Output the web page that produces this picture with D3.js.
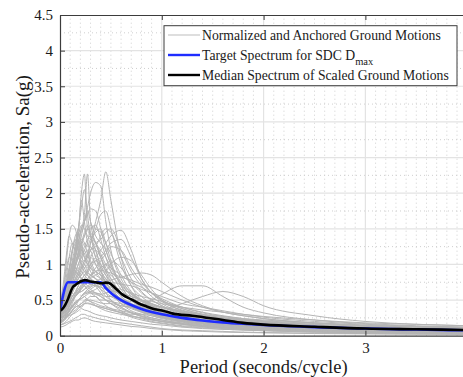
<!DOCTYPE html>
<html>
<head>
<meta charset="utf-8">
<script src="https://cdn.jsdelivr.net/npm/d3@7"></script>
<style>
html,body{margin:0;padding:0;background:#fff;}
svg{display:block;}
text{font-family:"Liberation Serif","DejaVu Serif",serif;fill:#1a1a1a;}
</style>
</head>
<body>
<svg id="chart" width="463" height="377"></svg>
<script>
// ---------- DATA ----------
const xTicks = [0, 1, 2, 3];
const yTicks = [0, 0.5, 1, 1.5, 2, 2.5, 3, 3.5, 4, 4.5];
const xTickLabels = ["0", "1", "2", "3"];
const yTickLabels = ["0", "0.5", "1", "1.5", "2", "2.5", "3", "3.5", "4", "4.5"];
const legendLabels = ["Normalized and Anchored Ground Motions", "Target Spectrum for SDC D", "Median Spectrum of Scaled Ground Motions"];

// periods (s) at which each ground motion is sampled
const gmPeriods = [0, 0.03, 0.06, 0.09, 0.12, 0.15, 0.18, 0.21, 0.24, 0.27, 0.30, 0.35, 0.40, 0.45, 0.50, 0.60, 0.70, 0.80, 0.90, 1.0, 1.2, 1.4, 1.6, 1.8, 2.0, 2.5, 3.0, 3.5, 4.0];
// Sa (g) of normalized and anchored ground motions
const groundMotions = [
  [0.30,0.35,0.45,0.60,0.70,0.80,0.90,1.00,1.20,1.10,1.30,1.60,1.90,2.30,1.90,1.10,0.70,0.50,0.40,0.33,0.25,0.20,0.16,0.13,0.11,0.08,0.06,0.05,0.04],
  [0.35,0.42,0.60,0.80,1.00,1.10,1.30,1.50,1.70,2.27,1.60,1.30,1.10,0.90,0.75,0.55,0.45,0.38,0.32,0.28,0.22,0.18,0.15,0.13,0.11,0.08,0.06,0.05,0.045],
  [0.40,0.50,0.70,0.90,1.20,1.40,1.50,2.00,2.27,1.50,1.40,1.20,0.95,0.70,0.60,0.45,0.35,0.30,0.25,0.22,0.18,0.15,0.12,0.10,0.09,0.07,0.05,0.04,0.035],
  [0.45,0.50,0.60,0.75,0.90,1.00,1.20,1.40,1.60,1.80,2.00,2.15,2.10,1.60,1.20,0.80,0.60,0.50,0.45,0.40,0.30,0.25,0.20,0.17,0.15,0.11,0.08,0.07,0.06],
  [0.30,0.32,0.38,0.45,0.55,0.60,0.70,0.80,0.85,0.90,1.00,1.10,1.20,1.30,1.40,1.48,1.20,0.80,0.60,0.50,0.38,0.30,0.24,0.20,0.17,0.13,0.10,0.08,0.07],
  [0.35,0.40,0.50,0.70,0.90,1.10,1.30,1.50,1.60,1.70,1.78,1.75,1.50,1.20,1.00,0.70,0.50,0.40,0.33,0.28,0.22,0.18,0.15,0.13,0.11,0.08,0.06,0.05,0.04],
  [0.40,0.60,1.00,1.40,1.55,1.50,1.30,1.20,1.10,1.00,0.90,0.80,0.70,0.60,0.50,0.40,0.32,0.27,0.23,0.20,0.16,0.13,0.11,0.09,0.08,0.06,0.05,0.04,0.03],
  [0.25,0.27,0.30,0.35,0.40,0.45,0.50,0.55,0.60,0.62,0.65,0.70,0.72,0.75,0.78,0.82,0.86,0.88,0.85,0.75,0.55,0.42,0.33,0.28,0.24,0.18,0.14,0.12,0.10],
  [0.20,0.22,0.25,0.30,0.35,0.40,0.42,0.45,0.50,0.52,0.55,0.55,0.50,0.50,0.48,0.45,0.42,0.45,0.50,0.58,0.70,0.70,0.55,0.40,0.32,0.22,0.17,0.14,0.12],
  [0.20,0.22,0.26,0.30,0.33,0.36,0.40,0.42,0.45,0.45,0.44,0.42,0.40,0.38,0.36,0.33,0.30,0.30,0.32,0.36,0.45,0.55,0.62,0.55,0.42,0.28,0.20,0.16,0.14],
  [0.15,0.16,0.18,0.20,0.22,0.25,0.27,0.30,0.30,0.28,0.27,0.25,0.23,0.22,0.20,0.18,0.16,0.14,0.12,0.10,0.08,0.07,0.06,0.05,0.045,0.035,0.03,0.025,0.02],
  [0.20,0.22,0.28,0.35,0.40,0.45,0.42,0.40,0.45,0.50,0.48,0.42,0.38,0.35,0.33,0.30,0.27,0.25,0.22,0.20,0.17,0.14,0.12,0.10,0.09,0.07,0.05,0.045,0.04],
  [0.35,0.40,0.55,0.70,0.80,0.90,0.85,0.95,1.00,0.90,0.85,0.80,0.75,0.70,0.62,0.50,0.42,0.35,0.30,0.26,0.20,0.17,0.14,0.12,0.10,0.07,0.055,0.045,0.04],
  [0.30,0.35,0.45,0.55,0.65,0.70,0.75,0.80,0.78,0.75,0.72,0.70,0.68,0.65,0.60,0.52,0.45,0.40,0.36,0.32,0.26,0.22,0.18,0.15,0.13,0.10,0.08,0.06,0.05],
  [0.45,0.55,0.80,1.10,1.30,1.20,1.35,1.25,1.10,1.00,0.95,0.85,0.80,0.70,0.60,0.48,0.40,0.34,0.30,0.27,0.21,0.17,0.14,0.12,0.10,0.08,0.06,0.05,0.045],
  [0.38,0.42,0.50,0.65,0.80,0.95,1.10,1.20,1.30,1.25,1.35,1.30,1.10,0.90,0.80,0.60,0.50,0.45,0.40,0.35,0.28,0.22,0.18,0.16,0.14,0.10,0.08,0.07,0.06],
  [0.32,0.35,0.40,0.50,0.60,0.70,0.80,0.90,1.00,1.10,1.20,1.30,1.35,1.45,1.50,1.20,0.90,0.70,0.55,0.45,0.33,0.27,0.22,0.19,0.16,0.12,0.09,0.07,0.06],
  [0.18,0.20,0.25,0.28,0.30,0.32,0.35,0.38,0.36,0.35,0.33,0.30,0.28,0.27,0.25,0.22,0.20,0.18,0.16,0.15,0.12,0.10,0.09,0.08,0.07,0.05,0.04,0.035,0.03],
  [0.28,0.30,0.38,0.50,0.60,0.55,0.60,0.65,0.70,0.65,0.60,0.58,0.55,0.50,0.48,0.42,0.40,0.38,0.35,0.30,0.25,0.20,0.18,0.15,0.13,0.10,0.08,0.06,0.05],
  [0.38,0.50,0.75,0.95,1.00,0.90,0.85,0.80,0.75,0.70,0.65,0.60,0.55,0.50,0.45,0.38,0.32,0.27,0.23,0.20,0.16,0.13,0.11,0.10,0.09,0.07,0.05,0.045,0.04],
  [0.25,0.27,0.30,0.35,0.40,0.45,0.50,0.55,0.60,0.60,0.62,0.60,0.58,0.60,0.62,0.60,0.55,0.50,0.48,0.45,0.40,0.36,0.33,0.30,0.27,0.22,0.18,0.16,0.14],
  [0.30,0.32,0.40,0.50,0.60,0.70,0.80,0.85,0.95,1.00,1.10,1.20,1.10,0.95,0.80,0.60,0.50,0.42,0.35,0.30,0.23,0.19,0.16,0.14,0.12,0.09,0.07,0.06,0.05],
  [0.40,0.48,0.65,0.90,1.15,1.35,1.20,1.00,0.90,0.85,0.80,0.75,0.65,0.55,0.50,0.40,0.33,0.28,0.25,0.22,0.17,0.14,0.12,0.10,0.09,0.07,0.05,0.04,0.035],
  [0.22,0.24,0.30,0.38,0.42,0.48,0.50,0.52,0.55,0.50,0.48,0.45,0.42,0.40,0.38,0.35,0.32,0.30,0.28,0.25,0.20,0.17,0.15,0.13,0.12,0.09,0.07,0.06,0.05],
  [0.30,0.32,0.38,0.45,0.50,0.55,0.60,0.62,0.65,0.70,0.72,0.75,0.80,0.78,0.70,0.65,0.60,0.55,0.52,0.48,0.40,0.33,0.28,0.24,0.20,0.15,0.12,0.10,0.09],
  [0.42,0.45,0.55,0.70,0.85,1.00,1.15,1.30,1.45,1.55,1.40,1.10,0.90,0.75,0.65,0.50,0.40,0.35,0.30,0.26,0.20,0.16,0.13,0.11,0.10,0.07,0.055,0.045,0.04],
  [0.35,0.38,0.45,0.55,0.65,0.75,0.85,0.95,1.05,1.15,1.30,1.50,1.70,1.75,1.50,1.00,0.70,0.55,0.45,0.38,0.28,0.22,0.18,0.15,0.13,0.10,0.08,0.065,0.055],
  [0.35,0.55,0.90,1.10,1.05,0.95,0.90,0.80,0.70,0.65,0.60,0.55,0.48,0.42,0.38,0.32,0.26,0.22,0.19,0.17,0.13,0.11,0.09,0.08,0.07,0.05,0.04,0.035,0.03],
  [0.35,0.40,0.50,0.70,0.90,1.10,1.40,1.90,1.60,1.30,1.20,1.00,0.90,0.80,0.70,0.55,0.45,0.38,0.32,0.28,0.22,0.18,0.15,0.13,0.11,0.08,0.06,0.05,0.045],
  [0.28,0.30,0.35,0.42,0.50,0.55,0.60,0.62,0.65,0.68,0.70,0.75,0.80,0.90,1.00,1.10,1.05,0.85,0.65,0.50,0.35,0.28,0.23,0.20,0.17,0.13,0.10,0.085,0.075],
  [0.20,0.22,0.26,0.30,0.35,0.40,0.42,0.45,0.48,0.50,0.50,0.48,0.46,0.45,0.45,0.42,0.40,0.38,0.36,0.34,0.30,0.27,0.25,0.23,0.21,0.17,0.14,0.12,0.10],
  [0.12,0.13,0.15,0.18,0.20,0.22,0.22,0.24,0.25,0.24,0.22,0.20,0.19,0.18,0.17,0.15,0.13,0.12,0.10,0.09,0.07,0.06,0.05,0.045,0.04,0.03,0.025,0.02,0.018],
  [0.36,0.40,0.50,0.60,0.75,0.90,1.00,1.15,1.25,1.35,1.40,1.30,1.15,1.00,0.90,0.75,0.60,0.50,0.42,0.36,0.28,0.22,0.18,0.15,0.13,0.10,0.075,0.06,0.05],
  [0.45,0.70,1.10,1.40,1.30,1.20,1.10,1.00,0.95,0.85,0.80,0.70,0.60,0.50,0.45,0.35,0.28,0.24,0.20,0.18,0.14,0.12,0.10,0.085,0.075,0.055,0.045,0.035,0.03],
  [0.30,0.33,0.40,0.48,0.55,0.60,0.65,0.70,0.75,0.80,0.85,0.95,1.05,1.15,1.25,1.20,0.95,0.75,0.60,0.50,0.38,0.30,0.25,0.22,0.19,0.14,0.11,0.09,0.08],
  [0.38,0.42,0.55,0.70,0.90,1.20,1.50,1.80,2.05,1.70,1.40,1.20,1.00,0.85,0.70,0.50,0.40,0.33,0.28,0.24,0.19,0.15,0.12,0.10,0.09,0.07,0.05,0.04,0.035],
  [0.25,0.30,0.42,0.55,0.70,0.80,0.90,1.05,1.00,0.95,1.10,1.00,0.85,0.70,0.60,0.45,0.38,0.33,0.30,0.27,0.22,0.18,0.15,0.13,0.11,0.085,0.065,0.055,0.05],
  [0.30,0.38,0.55,0.80,1.00,1.20,1.45,1.30,1.15,1.20,1.05,0.90,0.80,0.70,0.62,0.50,0.42,0.36,0.31,0.27,0.21,0.17,0.14,0.12,0.10,0.075,0.06,0.05,0.045],
  [0.22,0.25,0.32,0.40,0.50,0.58,0.65,0.72,0.80,0.88,0.95,1.05,1.00,0.92,0.85,0.70,0.58,0.50,0.44,0.40,0.33,0.28,0.24,0.21,0.18,0.14,0.11,0.09,0.08],
  [0.40,0.45,0.60,0.80,1.05,1.25,1.40,1.55,1.50,1.40,1.35,1.45,1.50,1.30,1.05,0.70,0.50,0.40,0.34,0.30,0.23,0.19,0.16,0.14,0.12,0.09,0.07,0.06,0.05],
  [0.20,0.22,0.28,0.35,0.45,0.55,0.60,0.68,0.72,0.75,0.80,0.85,0.90,1.00,1.05,0.95,0.75,0.60,0.50,0.42,0.32,0.26,0.22,0.19,0.16,0.12,0.10,0.08,0.07],
  [0.33,0.38,0.50,0.62,0.75,0.85,0.95,0.90,0.85,0.80,0.78,0.72,0.65,0.60,0.55,0.48,0.42,0.38,0.34,0.31,0.26,0.22,0.19,0.17,0.15,0.12,0.09,0.08,0.07],
  [0.26,0.28,0.34,0.42,0.50,0.58,0.62,0.66,0.70,0.75,0.82,0.90,0.95,1.00,0.95,0.85,0.75,0.68,0.60,0.52,0.40,0.32,0.27,0.23,0.20,0.15,0.12,0.10,0.09],
  [0.42,0.50,0.68,0.85,1.00,1.10,1.25,1.35,1.30,1.15,1.00,0.90,0.85,0.75,0.65,0.52,0.43,0.37,0.32,0.29,0.23,0.19,0.16,0.14,0.12,0.09,0.07,0.06,0.05],
  [0.18,0.20,0.24,0.30,0.36,0.42,0.48,0.55,0.60,0.65,0.68,0.72,0.75,0.72,0.68,0.60,0.55,0.50,0.45,0.40,0.32,0.27,0.23,0.20,0.18,0.14,0.11,0.09,0.08],
  [0.30,0.34,0.45,0.60,0.72,0.88,1.00,1.10,1.20,1.30,1.50,1.55,1.35,1.10,0.90,0.65,0.50,0.42,0.36,0.32,0.25,0.20,0.17,0.15,0.13,0.10,0.08,0.065,0.055],
  [0.36,0.42,0.58,0.75,0.95,1.15,1.25,1.10,1.05,1.15,1.25,1.10,0.95,0.85,0.75,0.60,0.50,0.43,0.38,0.33,0.26,0.21,0.17,0.15,0.13,0.10,0.075,0.06,0.05],
  [0.24,0.26,0.30,0.36,0.42,0.46,0.50,0.55,0.58,0.60,0.62,0.65,0.70,0.72,0.75,0.72,0.70,0.65,0.60,0.55,0.45,0.40,0.35,0.30,0.26,0.20,0.16,0.13,0.11],
  [0.32,0.36,0.45,0.55,0.68,0.78,0.85,0.95,1.05,1.10,1.20,1.25,1.40,1.50,1.45,1.10,0.80,0.62,0.50,0.42,0.32,0.26,0.21,0.18,0.16,0.12,0.09,0.075,0.065],
  [0.28,0.33,0.45,0.58,0.70,0.75,0.80,0.85,0.90,0.88,0.85,0.80,0.75,0.70,0.65,0.58,0.52,0.48,0.44,0.40,0.34,0.29,0.25,0.22,0.20,0.16,0.13,0.11,0.10],
  [0.45,0.52,0.70,0.95,1.20,1.30,1.50,1.45,1.60,1.75,1.60,1.40,1.30,1.20,1.00,0.75,0.55,0.45,0.38,0.33,0.26,0.21,0.17,0.15,0.13,0.10,0.075,0.06,0.05],
  [0.20,0.22,0.27,0.33,0.40,0.45,0.50,0.52,0.55,0.58,0.60,0.60,0.58,0.55,0.55,0.50,0.48,0.45,0.42,0.40,0.35,0.30,0.27,0.24,0.22,0.18,0.15,0.13,0.12],
  [0.38,0.44,0.60,0.78,0.92,1.05,1.15,1.20,1.15,1.05,0.95,0.90,0.85,0.80,0.72,0.60,0.50,0.44,0.40,0.36,0.30,0.25,0.21,0.18,0.16,0.12,0.095,0.08,0.07],
  [0.27,0.30,0.38,0.46,0.55,0.62,0.70,0.78,0.85,0.92,1.00,1.05,1.10,1.20,1.30,1.35,1.10,0.80,0.60,0.48,0.36,0.29,0.24,0.20,0.17,0.13,0.10,0.085,0.075],
  [0.15,0.17,0.20,0.25,0.30,0.34,0.38,0.42,0.45,0.46,0.45,0.42,0.40,0.38,0.36,0.32,0.28,0.25,0.22,0.20,0.16,0.13,0.11,0.10,0.09,0.07,0.055,0.045,0.04],
  [0.34,0.40,0.52,0.68,0.82,0.98,1.10,1.25,1.40,1.50,1.45,1.30,1.20,1.10,0.95,0.72,0.58,0.48,0.42,0.36,0.28,0.23,0.19,0.16,0.14,0.11,0.085,0.07,0.06],
  [0.24,0.27,0.33,0.40,0.48,0.55,0.62,0.68,0.74,0.80,0.85,0.90,0.92,0.90,0.88,0.82,0.78,0.72,0.68,0.62,0.50,0.40,0.33,0.28,0.24,0.18,0.14,0.12,0.10],
  [0.30,0.35,0.48,0.65,0.85,1.00,1.15,1.30,1.40,1.50,1.55,1.50,1.45,1.30,1.15,0.85,0.62,0.50,0.42,0.36,0.28,0.23,0.19,0.16,0.14,0.11,0.085,0.07,0.06]
];

// target spectrum (SDC Dmax)
const targetPeriods = [0, 0.08, 0.40, 0.45, 0.50, 0.55, 0.60, 0.70, 0.80, 0.90, 1.0, 1.2, 1.4, 1.6, 1.8, 2.0, 2.5, 3.0, 3.5, 4.0];
const targetSa      = [0.35, 0.75, 0.75, 0.667, 0.60, 0.545, 0.50, 0.43, 0.375, 0.333, 0.30, 0.25, 0.214, 0.1875, 0.167, 0.15, 0.12, 0.10, 0.086, 0.075];

// median of scaled ground motions
const medianPeriods = [0, 0.02, 0.05, 0.08, 0.10, 0.13, 0.15, 0.20, 0.25, 0.30, 0.35, 0.41, 0.45, 0.48, 0.55, 0.61, 0.70, 0.77, 0.85, 0.93, 1.0, 1.11, 1.3, 1.6, 1.8, 2.0, 2.5, 3.0, 3.5, 4.0];
const medianSa      = [0.35, 0.37, 0.43, 0.52, 0.60, 0.69, 0.71, 0.76, 0.78, 0.76, 0.75, 0.735, 0.745, 0.74, 0.66, 0.58, 0.51, 0.455, 0.41, 0.37, 0.355, 0.31, 0.28, 0.22, 0.18, 0.155, 0.125, 0.10, 0.09, 0.08];

// ---------- CHART ----------
const W = 463, H = 377;
const svg = d3.select("#chart");
const x = d3.scaleLinear().domain([0, 4]).range([60, 467.2]);
const y = d3.scaleLinear().domain([0, 4.5]).range([335.7, 15]);
const [x0, x1] = x.range(), [y0, y1] = y.range();

svg.append("rect").attr("width", W).attr("height", H).attr("fill", "#fff");

svg.append("defs").append("clipPath").attr("id", "clip")
  .append("rect").attr("x", x0).attr("y", y1).attr("width", x1 - x0).attr("height", y0 - y1);

// minor grid
const gMinor = svg.append("g");
gMinor.selectAll("line.mx").data(d3.range(1, 40).filter(i => i % 10 !== 0).map(i => i / 10))
  .join("line").attr("x1", d => x(d)).attr("x2", d => x(d)).attr("y1", y0).attr("y2", y1)
  .attr("stroke", "#cfcfcf").attr("stroke-width", 1).attr("stroke-dasharray", "1,3");
gMinor.selectAll("line.my").data(yTicks.slice(0, -1).map(v => v + 0.25))
  .join("line").attr("x1", x0).attr("x2", x1).attr("y1", d => y(d)).attr("y2", d => y(d))
  .attr("stroke", "#cfcfcf").attr("stroke-width", 1).attr("stroke-dasharray", "1,3");

// major grid
const gMajor = svg.append("g");
gMajor.selectAll("line.gx").data(xTicks.slice(1)).join("line")
  .attr("x1", d => x(d)).attr("x2", d => x(d)).attr("y1", y0).attr("y2", y1)
  .attr("stroke", "#e3e3e3").attr("stroke-width", 1.2);
gMajor.selectAll("line.gy").data(yTicks.slice(1, -1)).join("line")
  .attr("x1", x0).attr("x2", x1).attr("y1", d => y(d)).attr("y2", d => y(d))
  .attr("stroke", "#e3e3e3").attr("stroke-width", 1.2);

// data
const plot = svg.append("g").attr("clip-path", "url(#clip)");
const line = d3.line().curve(d3.curveMonotoneX);

plot.selectAll("path.gm").data(groundMotions).join("path")
  .attr("fill", "none").attr("stroke", "#b4b4b4").attr("stroke-width", 1)
  .attr("d", row => line(row.map((v, i) => [x(gmPeriods[i]), y(v)])));

plot.append("path").attr("fill", "none").attr("stroke", "#1f2dff").attr("stroke-width", 2.6)
  .attr("stroke-linejoin", "round")
  .attr("d", d3.line().curve(d3.curveMonotoneX)(targetPeriods.map((t, i) => [x(t), y(targetSa[i])])));

plot.append("path").attr("fill", "none").attr("stroke", "#000").attr("stroke-width", 2.6)
  .attr("stroke-linejoin", "round")
  .attr("d", line(medianPeriods.map((t, i) => [x(t), y(medianSa[i])])));

// axes
const axisColor = "#3c3c3c";
const gxAxis = svg.append("g").attr("transform", `translate(0,${y0})`)
  .call(d3.axisBottom(x).tickValues(xTicks).tickFormat((d, i) => xTickLabels[i]).tickSizeInner(-5).tickSizeOuter(0).tickPadding(7));
const gyAxis = svg.append("g").attr("transform", `translate(${x0},0)`)
  .call(d3.axisLeft(y).tickValues(yTicks).tickFormat((d, i) => yTickLabels[i]).tickSizeInner(-5).tickSizeOuter(0).tickPadding(7));
const gTop = svg.append("g").attr("transform", `translate(0,${y1})`)
  .call(d3.axisTop(x).tickValues(xTicks).tickFormat("").tickSizeInner(-5).tickSizeOuter(0));
[gxAxis, gyAxis, gTop].forEach(g => {
  g.select(".domain").attr("stroke", axisColor).attr("stroke-width", 1.2);
  g.selectAll(".tick line").attr("stroke", axisColor);
  g.selectAll(".tick text").attr("font-family", "Liberation Serif, serif").attr("font-size", 15).attr("fill", "#1a1a1a");
});

// axis titles
svg.append("text").attr("x", x(2)).attr("y", 373).attr("text-anchor", "middle")
  .attr("font-size", 18.5).text("Period (seconds/cycle)");
svg.append("text").attr("transform", `translate(29,177) rotate(-90)`).attr("text-anchor", "middle")
  .attr("font-size", 19).text("Pseudo-acceleration, Sa(g)");

// legend
const lg = svg.append("g");
lg.append("rect").attr("x", 164).attr("y", 25.7).attr("width", 293).attr("height", 60)
  .attr("fill", "#fff").attr("stroke", axisColor).attr("stroke-width", 1);
const legendStyles = [
  {color: "#c8c8c8", width: 1.2},
  {color: "#1f2dff", width: 2.4},
  {color: "#000", width: 2.4}
];
const rowY = [35, 55, 75];
legendLabels.forEach((lab, i) => {
  lg.append("line").attr("x1", 168).attr("x2", 200).attr("y1", rowY[i]).attr("y2", rowY[i])
    .attr("stroke", legendStyles[i].color).attr("stroke-width", legendStyles[i].width);
  const t = lg.append("text").attr("x", 202).attr("y", rowY[i] + 5).attr("font-size", 13.7).text(lab);
  if (i === 1) {
    t.append("tspan").attr("dy", 5).attr("font-size", 10.5).text("max");
  }
});
</script>
</body>
</html>
